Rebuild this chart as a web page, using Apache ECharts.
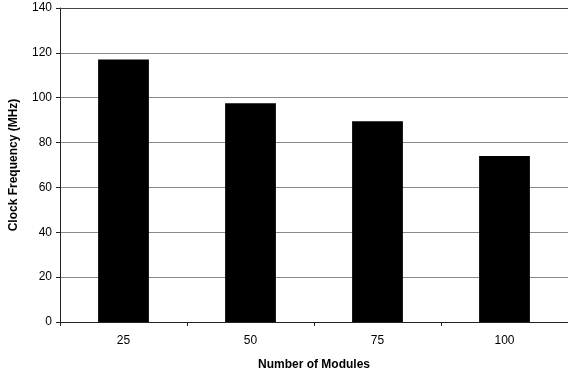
<!DOCTYPE html>
<html><head><meta charset="utf-8">
<script src="https://cdn.jsdelivr.net/npm/echarts@6/dist/echarts.min.js"></script>
<style>html,body{margin:0;padding:0;background:#fff;overflow:hidden}#c{width:568px;height:376px}</style>
</head><body><div id="c"></div>
<script>
const categories = ['25', '50', '75', '100'];
const clockFrequency = [117, 97.5, 89.5, 74];
const yTicks = {min: 0, max: 140, interval: 20};

const chart = echarts.init(document.getElementById('c'), null, {renderer: 'canvas', width: 568, height: 376});
const font = '"Liberation Sans", Arial, sans-serif';
chart.setOption({
  animation: false,
  backgroundColor: '#fff',
  grid: {left: 58, top: 8, width: 516, height: 323, containLabel: false},
  xAxis: [{
    type: 'category', data: categories, boundaryGap: true,
    name: 'Number of Modules', nameLocation: 'middle', nameGap: 37,
    nameTextStyle: {fontFamily: font, fontWeight: 'bold', fontSize: 12, color: '#000'},
    axisLine: {lineStyle: {color: '#222', width: 1}},
    axisTick: {show: true, alignWithLabel: false, length: 4, lineStyle: {color: '#222'}},
    axisLabel: {fontFamily: font, fontSize: 12, color: '#000', margin: 13},
    splitLine: {show: false}
  }, {
    type: 'category', data: categories, position: 'top',
    axisLine: {show: true, lineStyle: {color: '#444', width: 1}},
    axisTick: {show: false}, axisLabel: {show: false}, splitLine: {show: false}
  }],
  yAxis: {
    type: 'value', min: yTicks.min, max: yTicks.max, interval: yTicks.interval,
    name: 'Clock Frequency (MHz)', nameLocation: 'middle', nameGap: 40,
    nameTextStyle: {fontFamily: font, fontWeight: 'bold', fontSize: 12, color: '#000'},
    axisLine: {show: true, lineStyle: {color: '#222', width: 1}},
    axisTick: {show: true, length: 4, lineStyle: {color: '#222'}},
    axisLabel: {fontFamily: font, fontSize: 12, color: '#000', margin: 8},
    splitLine: {show: true, lineStyle: {color: '#8a8a8a', width: 1}}
  },
  series: [{
    type: 'bar', data: clockFrequency, barWidth: '40%', xAxisIndex: 0,
    itemStyle: {color: '#000'}
  }]
});
</script></body></html>
